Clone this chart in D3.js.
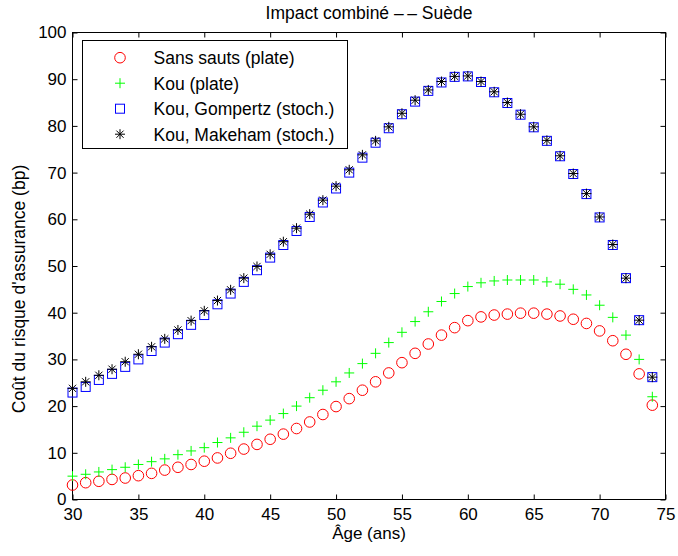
<!DOCTYPE html>
<html>
<head>
<meta charset="utf-8">
<script src="https://cdn.jsdelivr.net/npm/d3@7"></script>
<style>
  body { margin: 0; background: #fff; }
  svg { font-family: "Liberation Sans", Arial, sans-serif; }
</style>
</head>
<body>
<div id="graph"></div>
<script>
// ages (x) and the four series
const ages = [30, 31, 32, 33, 34, 35, 36, 37, 38, 39,
              40, 41, 42, 43, 44, 45, 46, 47, 48, 49,
              50, 51, 52, 53, 54, 55, 56, 57, 58, 59,
              60, 61, 62, 63, 64, 65, 66, 67, 68, 69,
              70, 71, 72, 73, 74]

const sansSauts = [3.1, 3.6, 3.9, 4.3, 4.6, 5.1, 5.6, 6.3, 6.9, 7.5,
                   8.2, 8.9, 9.9, 10.8, 11.8, 12.9, 14.0, 15.2, 16.6, 18.2,
                   19.9, 21.6, 23.4, 25.2, 27.1, 29.3, 31.3, 33.3, 35.2, 36.8,
                   38.3, 39.1, 39.5, 39.7, 39.9, 39.9, 39.7, 39.3, 38.6, 37.7,
                   36.1, 34.0, 31.1, 26.9, 20.2]

const kouPlate = [5.0, 5.4, 5.9, 6.4, 6.9, 7.5, 8.1, 8.7, 9.6, 10.4,
                  11.1, 12.2, 13.2, 14.4, 15.7, 17.0, 18.4, 20.0, 21.8, 23.4,
                  25.2, 27.1, 29.1, 31.3, 33.6, 35.8, 38.1, 40.2, 42.4, 44.1,
                  45.6, 46.4, 46.8, 47.0, 47.0, 47.0, 46.6, 46.1, 45.0, 43.8,
                  41.6, 39.0, 35.2, 30.0, 22.0]

const kouGompertz = [22.9, 24.1, 25.6, 26.9, 28.4, 30.0, 31.8, 33.6, 35.4, 37.4,
                     39.5, 41.8, 44.1, 46.6, 49.1, 51.8, 54.5, 57.5, 60.5, 63.6,
                     66.6, 70.0, 73.2, 76.4, 79.5, 82.5, 85.2, 87.5, 89.3, 90.5,
                     90.6, 89.4, 87.2, 84.9, 82.4, 79.7, 76.8, 73.5, 69.7, 65.4,
                     60.4, 54.5, 47.4, 38.4, 26.2]

const kouMakeham = [23.8, 25.2, 26.6, 27.9, 29.5, 31.1, 32.7, 34.4, 36.3, 38.3,
                    40.4, 42.6, 44.9, 47.4, 49.9, 52.5, 55.2, 58.1, 61.1, 64.1,
                    67.1, 70.6, 73.8, 76.8, 79.8, 82.7, 85.5, 87.7, 89.5, 90.6,
                    90.7, 89.5, 87.3, 85.0, 82.5, 79.8, 76.9, 73.6, 69.8, 65.5,
                    60.5, 54.6, 47.4, 38.4, 26.2]

const xTicks = [30, 35, 40, 45, 50, 55, 60, 65, 70, 75]
const yTicks = [0, 10, 20, 30, 40, 50, 60, 70, 80, 90, 100]
const labels = ["Sans sauts (plate)", "Kou (plate)", "Kou, Gompertz (stoch.)", "Kou, Makeham (stoch.)"]

const width = 678
const height = 556
const margin = { top: 32.5, right: 12.5, bottom: 56.5, left: 72.5 }

const svg = d3.select("#graph")
  .append("svg")
    .attr("width", width)
    .attr("height", height)

const g = svg.append("g")
  .attr("transform", "translate(" + margin.left + "," + margin.top + ")")

const w = width - margin.left - margin.right
const h = height - margin.top - margin.bottom

const x = d3.scaleLinear().domain([30, 75]).range([0, w])
const y = d3.scaleLinear().domain([0, 100]).range([h, 0])

// axes, ticks inside on all four sides
function styleAxis(sel) {
  sel.select(".domain").remove()
  sel.selectAll("line").attr("stroke", "#000")
  sel.selectAll("text").attr("font-size", 17).attr("fill", "#000")
}

g.append("g")
  .attr("transform", "translate(0," + h + ")")
  .call(d3.axisBottom(x).tickValues(xTicks).tickSizeInner(-5).tickSizeOuter(0).tickPadding(8))
  .call(styleAxis)
g.append("g")
  .call(d3.axisTop(x).tickValues(xTicks).tickSizeInner(-5).tickSizeOuter(0).tickFormat(""))
  .call(styleAxis)
g.append("g")
  .call(d3.axisLeft(y).tickValues(yTicks).tickSizeInner(-5).tickSizeOuter(0).tickPadding(6))
  .call(styleAxis)
g.append("g")
  .attr("transform", "translate(" + w + ",0)")
  .call(d3.axisRight(y).tickValues(yTicks).tickSizeInner(-5).tickSizeOuter(0).tickFormat(""))
  .call(styleAxis)

g.append("rect")
  .attr("width", w).attr("height", h)
  .attr("fill", "none").attr("stroke", "#000").attr("stroke-width", 1)

// marker shapes (MATLAB style)
const markers = [
  { draw: (s) => s.append("circle").attr("r", 5.3).attr("fill", "none").attr("stroke", "#ff0000") },
  { draw: (s) => s.append("path").attr("d", "M-5,0H5M0,-5V5").attr("fill", "none").attr("stroke", "#00ff00") },
  { draw: (s) => s.append("rect").attr("x", -4.5).attr("y", -4.5).attr("width", 9).attr("height", 9).attr("fill", "none").attr("stroke", "#0000ff") },
  { draw: (s) => s.append("path").attr("d", "M-5,0H5M0,-5V5M-3.6,-3.6L3.6,3.6M-3.6,3.6L3.6,-3.6").attr("fill", "none").attr("stroke", "#000") }
]

const series = [sansSauts, kouPlate, kouGompertz, kouMakeham]

series.forEach(function(vals, i) {
  const pts = g.append("g").selectAll("g")
    .data(ages.map((a, j) => ({ age: a, value: vals[j] })))
    .join("g")
      .attr("transform", d => "translate(" + x(d.age) + "," + y(d.value) + ")")
  markers[i].draw(pts)
})

// legend
const legend = svg.append("g").attr("transform", "translate(82.5,40.5)")
legend.append("rect")
  .attr("width", 265).attr("height", 108)
  .attr("fill", "#fff").attr("stroke", "#000")
labels.forEach(function(lab, i) {
  const row = legend.append("g").attr("transform", "translate(0," + (17.2 + i * 25.5) + ")")
  markers[i].draw(row.append("g").attr("transform", "translate(37.5,0)"))
  row.append("text")
    .attr("x", 71).attr("y", 6.3)
    .attr("font-size", 17.5)
    .text(lab)
})

// title and axis labels
svg.append("text")
  .attr("x", margin.left + w / 2).attr("y", 18.5)
  .attr("text-anchor", "middle").attr("font-size", 17.5)
  .text("Impact combiné –\u2009– Suède")

svg.append("text")
  .attr("x", margin.left + w / 2).attr("y", 539)
  .attr("text-anchor", "middle").attr("font-size", 17)
  .text("Âge (ans)")

svg.append("text")
  .attr("transform", "translate(24.5,289) rotate(-90)")
  .attr("text-anchor", "middle").attr("font-size", 17.5)
  .text("Coût du risque d'assurance (bp)")
</script>
</body>
</html>
